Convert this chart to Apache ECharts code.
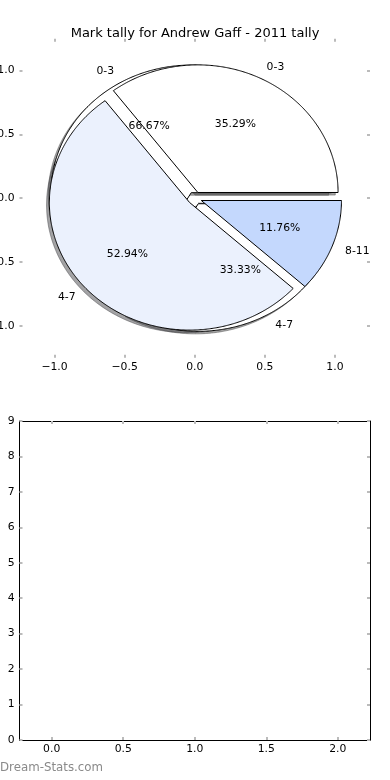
<!DOCTYPE html>
<html><head><meta charset="utf-8">
<script src="https://cdn.jsdelivr.net/npm/echarts@6/dist/echarts.min.js"></script>
<style>html,body{margin:0;padding:0;background:#fff}#c{width:390px;height:780px}</style>
</head><body><div id="c"></div>
<script>
// ---- data ----
const titleText = 'Mark tally for Andrew Gaff - 2011 tally';
const pie1Labels = ['0-3', '4-7', '8-11'];
const pie1Values = [6, 9, 2];
const pie2Labels = ['0-3', '4-7'];
const pie2Values = [2, 1];
const pieTicks = [-1.0, -0.5, 0.0, 0.5, 1.0];
const barXTicks = [0.0, 0.5, 1.0, 1.5, 2.0];
const barYTicks = [0, 1, 2, 3, 4, 5, 6, 7, 8, 9];
const watermark = 'Dream-Stats.com';

// ---- styles ----
const pie1Colors = ['#ffffff', '#ebf1fd', '#c4d8fd'];
const pie2Colors = ['#ffffff', '#ffffff'];
const EXPLODE = 0.05, LABEL_R = 1.1, PCT_R = 0.6, SH = -0.02;
const FONT = 'DejaVu Sans';
const FS = 10.8;
const TICK = '#bbbbbb';

function buildWedges(labels, values, colors) {
  const total = values.reduce((a, b) => a + b, 0);
  let acc = 0;
  return values.map((v, i) => {
    const t1 = acc / total * 360; acc += v; const t2 = acc / total * 360;
    return { name: labels[i], t1: t1, t2: t2, pct: v / total * 100, color: colors[i] };
  });
}
const pie1 = buildWedges(pie1Labels, pie1Values, pie1Colors);
const pie2 = buildWedges(pie2Labels, pie2Values, pie2Colors);

function wedgePts(api, w, dx, dy) {
  const mid = (w.t1 + w.t2) / 2 * Math.PI / 180;
  const cx = EXPLODE * Math.cos(mid) + dx, cy = EXPLODE * Math.sin(mid) + dy;
  const pts = [api.coord([cx, cy])];
  const n = Math.max(4, Math.ceil((w.t2 - w.t1) * 2));
  for (let k = 0; k <= n; k++) {
    const a = (w.t1 + (w.t2 - w.t1) * k / n) * Math.PI / 180;
    pts.push(api.coord([cx + Math.cos(a), cy + Math.sin(a)]));
  }
  return pts;
}
function shadowColor(hex) {
  const r = parseInt(hex.substr(1, 2), 16), g = parseInt(hex.substr(3, 2), 16), b = parseInt(hex.substr(5, 2), 16);
  return 'rgba(' + Math.round(r * 0.3) + ',' + Math.round(g * 0.3) + ',' + Math.round(b * 0.3) + ',0.5)';
}
const allWedges = pie2.concat(pie1);

function wedgeSeries(list, z) {
  return {
    type: 'custom', xAxisIndex: 0, yAxisIndex: 0, z: z, silent: true,
    data: list.map(w => [w.t1, w.t2]),
    renderItem: (params, api) => {
      const w = list[params.dataIndex];
      return { type: 'polygon', shape: { points: wedgePts(api, w, 0, 0) },
        style: { fill: w.color, stroke: '#000', lineWidth: 1, lineJoin: 'miter' } };
    }
  };
}
const fmt = v => (v < 0 ? '\u2212' : '') + Math.abs(v).toFixed(1);

function pieAxis(pos, idx, labels) {
  return {
    type: 'value', gridIndex: 0, position: pos, min: -1.25, max: 1.25,
    axisLine: { show: false, onZero: false }, splitLine: { show: false },
    axisTick: { show: true, inside: true, length: 3, customValues: pieTicks, lineStyle: { color: TICK, width: 2 } },
    axisLabel: labels ? { show: true, customValues: pieTicks, formatter: fmt, margin: pos === 'left' ? 5 : 4,
      color: '#000', fontFamily: FONT, fontSize: FS } : { show: false }
  };
}
function barAxis(kind, pos, labels) {
  const ticks = kind === 'x' ? barXTicks : barYTicks;
  const o = {
    type: 'value', gridIndex: 1, position: pos,
    axisLine: { show: true, onZero: false, lineStyle: { color: '#000', width: 1 } },
    splitLine: { show: false },
    axisTick: { show: true, inside: true, length: 3, customValues: ticks, lineStyle: { color: TICK, width: 2 } },
    axisLabel: labels ? { show: true, customValues: ticks, margin: kind === 'x' ? 4 : 5,
      formatter: kind === 'x' ? fmt : (v => String(v)), color: '#000', fontFamily: FONT, fontSize: FS } : { show: false }
  };
  if (kind === 'x') { o.min = -0.225; o.max = 2.225; } else { o.min = 0; o.max = 9; }
  return o;
}

const chart = echarts.init(document.getElementById('c'), null, { renderer: 'canvas' });
chart.setOption({
  animation: false,
  backgroundColor: '#fff',
  title: { text: titleText, left: 'center', top: 22,
    textStyle: { fontFamily: FONT, fontSize: 13, fontWeight: 'normal', color: '#000' } },
  grid: [
    { left: 19.5, top: 38.7, width: 350.5, height: 319, show: false, containLabel: false, outerBoundsMode: 'none' },
    { left: 19.5, top: 421, width: 350.5, height: 319, show: false, containLabel: false, outerBoundsMode: 'none' }
  ],
  xAxis: [pieAxis('bottom', 0, true), pieAxis('top', 0, false), barAxis('x', 'bottom', true), barAxis('x', 'top', false)],
  yAxis: [pieAxis('left', 0, true), pieAxis('right', 0, false), barAxis('y', 'left', true), barAxis('y', 'right', false)],
  graphic: [{ type: 'text', left: 0, top: 762,
    style: { text: watermark, fontFamily: FONT, fontSize: 11.8, fill: '#8a8a8a' } }],
  series: [
    {
      type: 'custom', xAxisIndex: 0, yAxisIndex: 0, z: 1, silent: true,
      data: allWedges.map(w => [w.t1, w.t2]),
      renderItem: (params, api) => {
        const w = allWedges[params.dataIndex];
        const c = shadowColor(w.color);
        return { type: 'polygon', shape: { points: wedgePts(api, w, SH, SH) },
          style: { fill: c, stroke: c, lineWidth: 1 } };
      }
    },
    wedgeSeries(pie2, 2),
    wedgeSeries(pie1, 3),
    {
      type: 'custom', xAxisIndex: 0, yAxisIndex: 0, z: 5, silent: true,
      data: allWedges.map(w => [w.t1, w.t2]),
      renderItem: (params, api) => {
        const w = allWedges[params.dataIndex];
        const mid = (w.t1 + w.t2) / 2 * Math.PI / 180;
        const cx = EXPLODE * Math.cos(mid), cy = EXPLODE * Math.sin(mid);
        const lx = cx + LABEL_R * Math.cos(mid), ly = cy + LABEL_R * Math.sin(mid);
        const p = api.coord([lx, ly]);
        const q = api.coord([cx + PCT_R * Math.cos(mid), cy + PCT_R * Math.sin(mid)]);
        return { type: 'group', children: [
          { type: 'text', x: p[0], y: p[1], style: { text: w.name, align: lx > 0 ? 'left' : 'right',
            verticalAlign: 'middle', fontFamily: FONT, fontSize: FS, fill: '#000' } },
          { type: 'text', x: q[0], y: q[1], style: { text: w.pct.toFixed(2) + '%', align: 'center',
            verticalAlign: 'middle', fontFamily: FONT, fontSize: FS, fill: '#000' } }
        ] };
      }
    }
  ]
});
</script>
</body></html>
